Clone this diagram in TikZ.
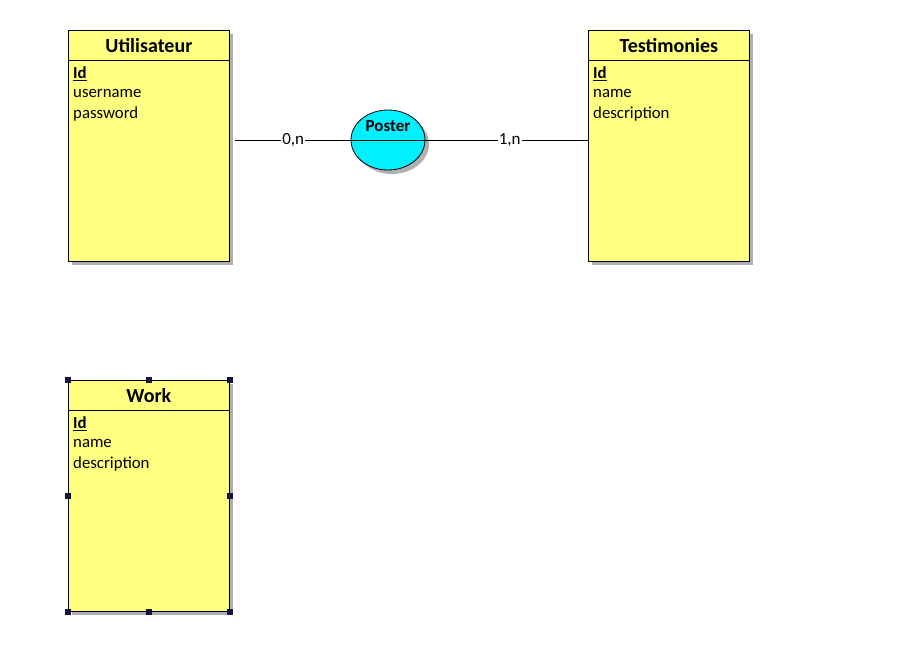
\documentclass[tikz,border=0pt]{standalone}
\usepackage{fontspec}
\setmainfont{Carlito}
\usetikzlibrary{shapes.geometric,calc}
\definecolor{entyellow}{RGB}{255,255,128}
\definecolor{assoccyan}{RGB}{0,240,255}
\definecolor{shadowgray}{RGB}{176,176,176}
\definecolor{handle}{RGB}{20,20,60}
\tikzset{
  ent/.style={draw, fill=entyellow, minimum width=161pt, minimum height=231pt, anchor=north west, inner sep=0pt, line width=0.8pt},
  entshadow/.style={fill=shadowgray, minimum width=161pt, minimum height=231pt, anchor=north west, inner sep=0pt},
  title/.style={font=\bfseries\fontsize{20}{24}\selectfont},
  attr/.style={anchor=west, inner sep=0pt, font=\fontsize{16.8}{20}\selectfont},
  assoc/.style={ellipse, draw, fill=assoccyan, minimum width=74pt, minimum height=60pt, inner sep=0pt, line width=0.8pt},
  assocshadow/.style={ellipse, fill=shadowgray, minimum width=74pt, minimum height=60pt, inner sep=0pt},
  link/.style={draw, line width=0.8pt},
  card/.style={fill=white, inner sep=1pt, font=\fontsize{17}{20}\selectfont},
  hnd/.style={fill=handle, minimum size=6.5pt, inner sep=0pt}
}
\begin{document}
\begin{tikzpicture}[x=1pt,y=-1pt]
\useasboundingbox[fill=white] (0,0) rectangle (923,645);
% shadows
\node[entshadow] (us) at (72,34) {};
\node[entshadow] (ts) at (592,34) {};
\node[entshadow] (ws) at (72,384) {};
\node[assocshadow] (ps) at (392,144) {};
% entities
\node[ent] (u) at (68,30) {};
\node[ent] (t) at (588,30) {};
\node[ent] (w) at (68,380) {};
\foreach \e/\name in {u/Utilisateur, t/Testimonies, w/Work}{
  \node[title] (\e title) at ($(\e.north)+(0,15.5)$) {\name};
  \draw[line width=0.8pt] ($(\e.north west)+(0,30)$) -- ($(\e.north east)+(0,30)$);
  \node[attr] (\e id) at ($(\e.north west)+(5,43.5)$) {\textbf{\underline{Id}}};
}
\node[attr] (ua1) at ($(u.north west)+(5,63)$) {username};
\node[attr] (ua2) at ($(u.north west)+(5,84)$) {password};
\node[attr] (ta1) at ($(t.north west)+(5,63)$) {name};
\node[attr] (ta2) at ($(t.north west)+(5,84)$) {description};
\node[attr] (wa1) at ($(w.north west)+(5,63)$) {name};
\node[attr] (wa2) at ($(w.north west)+(5,84)$) {description};
% association
\node[assoc] (p) at (388,140) {};
\draw[line width=0.8pt] (p.west) -- (p.east);
\node[font=\bfseries\fontsize{17}{20}\selectfont] (ptitle) at ($(p.center)+(0,-14)$) {Poster};
% links
\draw[link, shorten <=5pt] (u.east |- p.west) -- node[card, xshift=3pt] (c1) {0,n} (p.west);
\draw[link] (p.east) -- node[card, xshift=3pt] (c2) {1,n} (t.west |- p.east);
% selection handles on Work
\foreach \a in {north west, north, north east, west, east, south west, south, south east}{
  \node[hnd] at (w.\a) {};
}
\end{tikzpicture}
\end{document}
